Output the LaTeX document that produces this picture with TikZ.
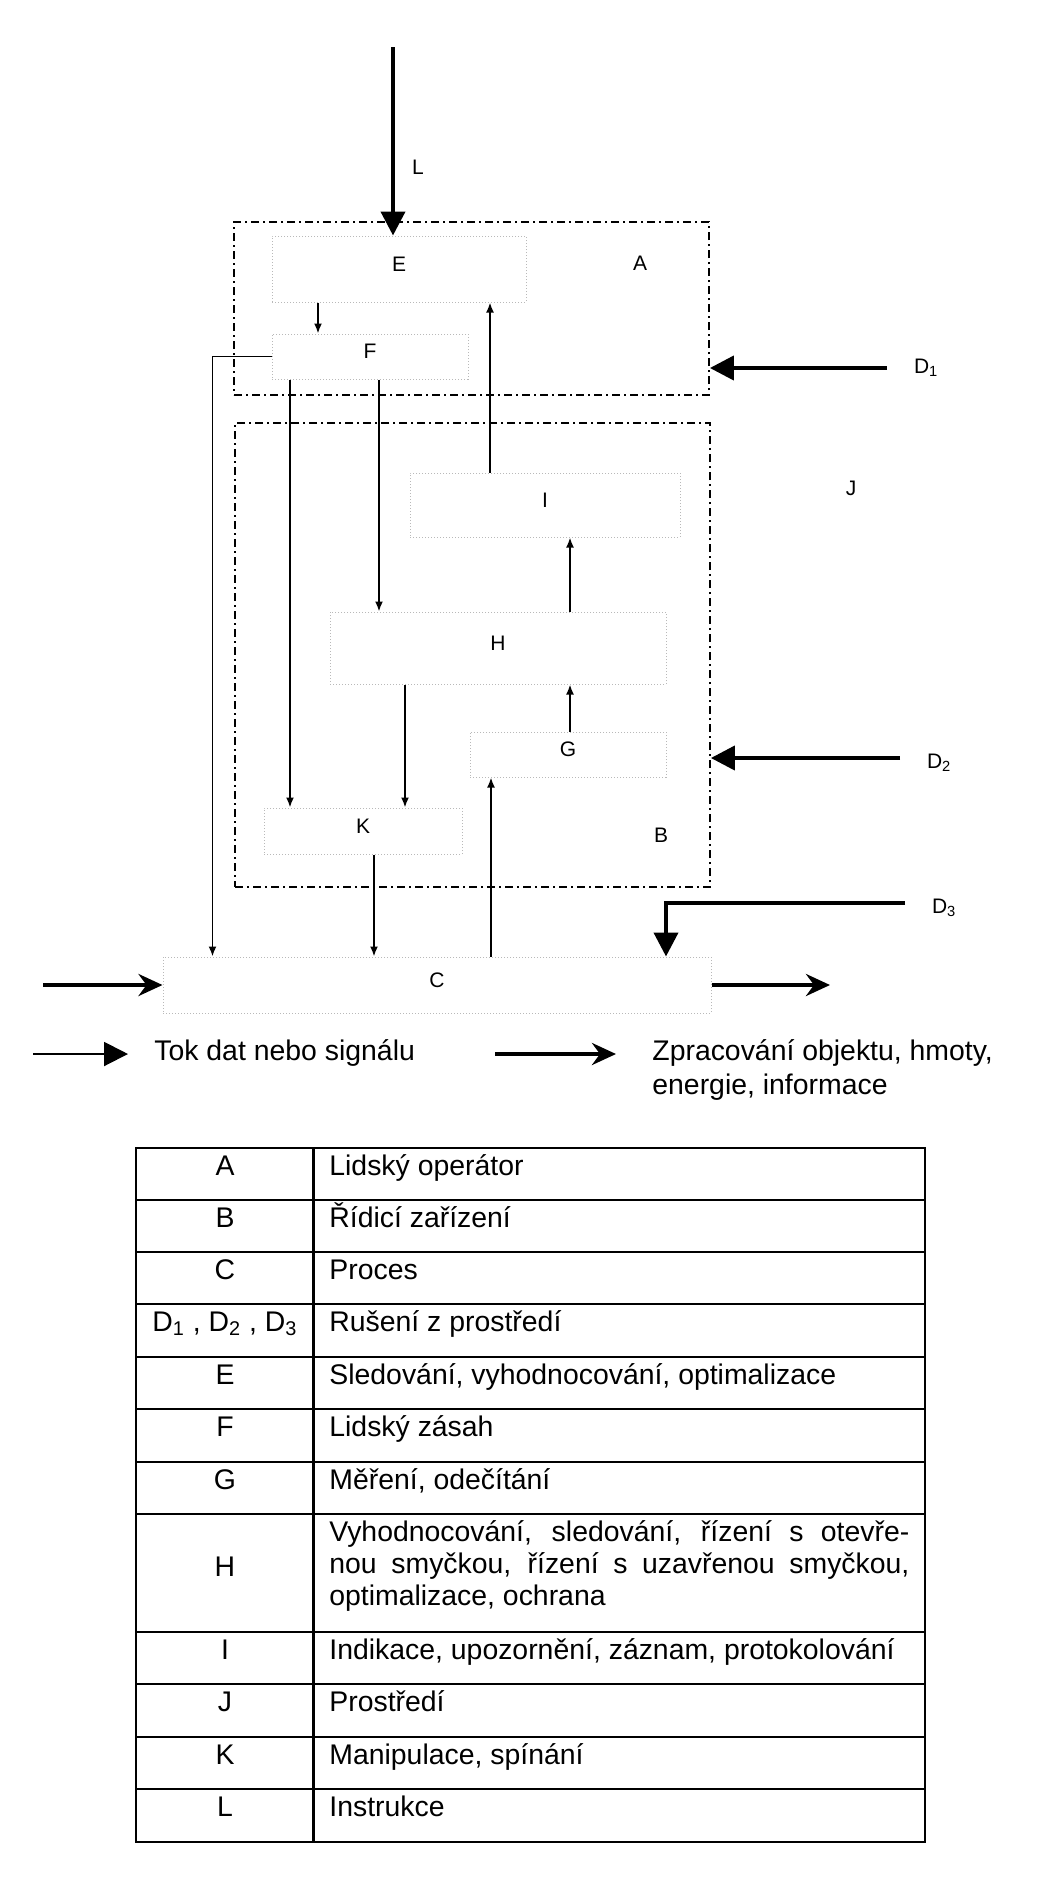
\documentclass[tikz,border=0pt]{standalone}
\usepackage{fontspec}
\setmainfont{Liberation Sans}
\usetikzlibrary{arrows.meta,positioning}

\begin{document}
\begin{tikzpicture}[x=0.5pt,y=-0.5pt,
  blok/.style={rectangle,draw=gray!55,densely dotted,line width=0.5pt,
    font=\fontsize{10.5}{12}\selectfont,text depth=5pt},
  ramec/.style={draw,line width=0.9pt,dash pattern=on 4pt off 2pt on 1pt off 2pt},
  sig/.style={-{Latex[length=5pt,width=4pt]},line width=0.9pt},
  zvenku/.style={-{Triangle[length=12pt,width=12pt]},line width=2pt},
  proces/.style={-{Stealth[length=12pt,width=11pt,inset=4pt]},line width=2.2pt},
  legsig/.style={-{Triangle[length=12pt,width=12pt]},line width=1pt},
  popis/.style={font=\fontsize{10.5}{12}\selectfont},
  tab/.style={font=\fontsize{14.2}{16}\selectfont,inner sep=0pt}]

  \useasboundingbox (0,0) rectangle (1043,1891);

  % ramce A a B
  \node[ramec,minimum width=237.5pt,minimum height=86.5pt] (ramA) at (471.5,308.5) {};
  \node[ramec,minimum width=237.5pt,minimum height=232pt] (ramB) at (472.5,655) {};
  \node[popis] (lA) at (640,263) {A};
  \node[popis] (lB) at (661,835) {B};
  \node[popis] (lJ) at (851,488) {J};
  \node[popis] (lL) at (418,167) {L};

  % bloky
  \node[blok,minimum width=127pt,minimum height=33pt]   (E) at (399,269)   {E};
  \node[blok,minimum width=98pt,minimum height=22.5pt]  (F) at (370,356.5) {F};
  \node[blok,minimum width=135pt,minimum height=32pt]   (I) at (545,505)   {I};
  \node[blok,minimum width=168pt,minimum height=36pt]   (H) at (498,648)   {H};
  \node[blok,minimum width=98pt,minimum height=22.5pt]  (G) at (568,754.5) {G};
  \node[blok,minimum width=99pt,minimum height=23pt]    (K) at (363,831)   {K};
  \node[blok,minimum width=274pt,minimum height=28pt]   (C) at (437,985)   {C};

  % signaly
  \draw[sig] (E.south -| 318,0) -- (F.north -| 318,0);
  \draw[sig] (F.west) -| ([xshift=25pt]C.north west);
  \draw[sig] (F.south -| 290,0) -- (K.north -| 290,0);
  \draw[sig] (F.south -| 379,0) -- (H.north -| 379,0);
  \draw[sig] (I.north -| 490,0) -- (E.south -| 490,0);
  \draw[sig] (H.north -| 570,0) -- (I.south -| 570,0);
  \draw[sig] (G.north -| 570,0) -- (H.south -| 570,0);
  \draw[sig] (H.south -| 405,0) -- (K.north -| 405,0);
  \draw[sig] (K.south -| 374,0) -- (C.north -| 374,0);
  \draw[sig] (C.north -| 491,0) -- (G.south -| 491,0);

  % vnejsi vlivy
  \coordinate (Ls) at (393,47);
  \coordinate (d1) at (887,368);
  \coordinate (d2) at (900,758);
  \coordinate (d3) at (905,903);
  \draw[zvenku] (Ls) -- (E.north -| Ls);
  \draw[zvenku] (d1) -- (ramA.east |- d1);
  \draw[zvenku] (d2) -- (ramB.east |- d2);
  \draw[zvenku] (d3) -| (C.north -| 666,0);
  \node[popis,right=10pt of d1] (lD1) {D\textsubscript{1}};
  \node[popis,right=10pt of d2,yshift=-2.5pt] (lD2) {D\textsubscript{2}};
  \node[popis,right=10pt of d3,yshift=-2.5pt] (lD3) {D\textsubscript{3}};

  % proces
  \coordinate (vstup) at (43,985);
  \coordinate (vystup) at (830,985);
  \draw[proces] (vstup) -- (C.west);
  \draw[proces] (C.east) -- (vystup);

  % legenda
  \coordinate (leg1) at (33,1054);
  \coordinate (leg1e) at (128,1054);
  \coordinate (leg2) at (495,1054);
  \coordinate (leg2e) at (616,1054);
  \draw[legsig] (leg1) -- (leg1e);
  \draw[proces] (leg2) -- (leg2e);
  \node[tab,anchor=base west] (tok) at (154,1060) {Tok dat nebo signálu};
  \node[tab,anchor=north west,align=left,font=\fontsize{14.2}{17}\selectfont] (zprac) at (652,1039)
    {Zpracování objektu, hmoty,\\energie, informace};

  % tabulka
  \draw[line width=1.1pt] (136,1148) rectangle (925,1842);
  \draw[line width=1.1pt] (313.5,1148) -- (313.5,1842);
  \draw[line width=1.1pt] (136,1200) -- (925,1200) (136,1252) -- (925,1252)
    (136,1304) -- (925,1304) (136,1357) -- (925,1357) (136,1409) -- (925,1409)
    (136,1462) -- (925,1462) (136,1514) -- (925,1514) (136,1632) -- (925,1632)
    (136,1684) -- (925,1684) (136,1737) -- (925,1737) (136,1789) -- (925,1789);

  \node[tab,anchor=base] (zA) at (225,1175) {A};
  \node[tab,anchor=base west] (pA) at (329,1175) {Lidský operátor};
  \node[tab,anchor=base] (zB) at (225,1227) {B};
  \node[tab,anchor=base west] (pB) at (329,1227) {Řídicí zařízení};
  \node[tab,anchor=base] (zC) at (225,1279) {C};
  \node[tab,anchor=base west] (pC) at (329,1279) {Proces};
  \node[tab,anchor=base] (zD) at (225,1331) {D\textsubscript{1} , D\textsubscript{2} , D\textsubscript{3}};
  \node[tab,anchor=base west] (pD) at (329,1331) {Rušení z prostředí};
  \node[tab,anchor=base] (zE) at (225,1384) {E};
  \node[tab,anchor=base west] (pE) at (329,1384) {Sledování, vyhodnocování, optimalizace};
  \node[tab,anchor=base] (zF) at (225,1436) {F};
  \node[tab,anchor=base west] (pF) at (329,1436) {Lidský zásah};
  \node[tab,anchor=base] (zG) at (225,1489) {G};
  \node[tab,anchor=base west] (pG) at (329,1489) {Měření, odečítání};
  \node[tab,anchor=base] (zH) at (225,1576) {H};
  \node[tab,anchor=north west,align=left] (pH) at (329,1520)
    {\makebox[290pt][s]{Vyhodnocování, sledování, řízení s otevře-}\\
     \makebox[290pt][s]{nou smyčkou, řízení s uzavřenou smyčkou,}\\
     optimalizace, ochrana};
  \node[tab,anchor=base] (zI) at (225,1659) {I};
  \node[tab,anchor=base west] (pI) at (329,1659) {Indikace, upozornění, záznam, protokolování};
  \node[tab,anchor=base] (zJ) at (225,1711) {J};
  \node[tab,anchor=base west] (pJ) at (329,1711) {Prostředí};
  \node[tab,anchor=base] (zK) at (225,1764) {K};
  \node[tab,anchor=base west] (pK) at (329,1764) {Manipulace, spínání};
  \node[tab,anchor=base] (zL) at (225,1816) {L};
  \node[tab,anchor=base west] (pL) at (329,1816) {Instrukce};
\end{tikzpicture}
\end{document}
